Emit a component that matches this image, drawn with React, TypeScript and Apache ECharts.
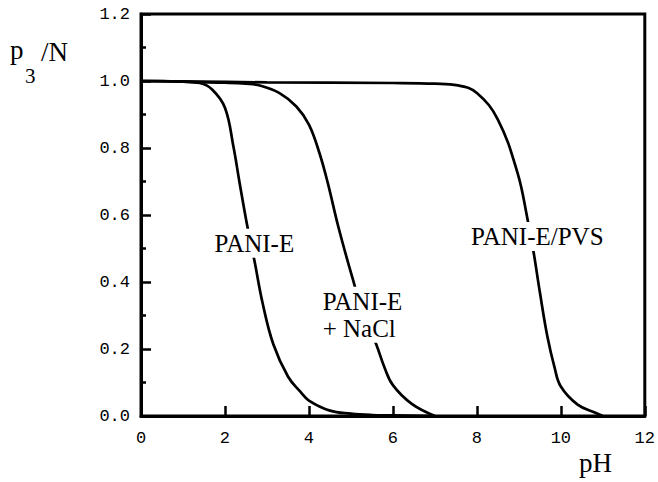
import React, { useEffect, useRef } from "react";
import * as echarts from "echarts";

const xTicks = { min: 0, max: 12, interval: 2 };
const yTicks = { min: 0, max: 1.2, interval: 0.2 };

const paniX = [0, 0.5, 1.0, 1.4, 1.7, 2.0, 2.2, 2.35, 2.55, 2.7, 2.9, 3.15, 3.5, 3.8, 4.0, 4.5, 5.0, 5.5, 6.0, 7.0];
const paniY = [1.0, 1.0, 0.998, 0.994, 0.974, 0.92, 0.805, 0.695, 0.555, 0.465, 0.335, 0.215, 0.118, 0.072, 0.046, 0.016, 0.007, 0.003, 0.002, 0.0];

const naclX = [0, 1, 2, 2.5, 2.85, 3.3, 3.7, 4.0, 4.25, 4.45, 4.7, 5.03, 5.3, 5.6, 5.8, 6.0, 6.45, 7.0];
const naclY = [1.0, 0.998, 0.995, 0.992, 0.986, 0.964, 0.924, 0.87, 0.785, 0.695, 0.565, 0.415, 0.305, 0.215, 0.145, 0.092, 0.036, 0.0];

const pvsX = [0, 3, 6, 7, 7.55, 8.0, 8.5, 8.97, 9.2, 9.35, 9.5, 9.68, 9.85, 10.0, 10.4, 10.85, 11.0];
const pvsY = [1.0, 0.996, 0.994, 0.992, 0.987, 0.964, 0.885, 0.725, 0.592, 0.49, 0.37, 0.237, 0.145, 0.088, 0.034, 0.008, 0.0];

const labelNames = ["PANI-E", "PANI-E\n+ NaCl", "PANI-E/PVS"];
const labelX = [2.7, 4.28, 9.44];
const labelY = [0.516, 0.302, 0.536];
const labelAlign = ["center", "left", "center"];

const zip = (xs: number[], ys: number[]) => xs.map((x, i) => [x, ys[i]]);

export default function App() {
  const ref = useRef<HTMLDivElement>(null);
  useEffect(() => {
    if (!ref.current) return;
    const chart = echarts.init(ref.current, null, { renderer: "svg" });
    const lineSeries = (name: string, xs: number[], ys: number[]) => ({
      name,
      type: "line",
      data: zip(xs, ys),
      showSymbol: false,
      smooth: 0.4,
      lineStyle: { color: "#000", width: 2.7 },
      silent: true,
      z: 2,
    });
    chart.setOption({
      animation: false,
      backgroundColor: "#fff",
      grid: {
        left: 141,
        right: 10,
        top: 14,
        bottom: 66,
        show: true,
        borderColor: "#000",
        borderWidth: 3,
      },
      xAxis: {
        type: "value",
        min: xTicks.min,
        max: xTicks.max,
        interval: xTicks.interval,
        axisLine: { lineStyle: { color: "#000", width: 3 } },
        axisTick: { inside: true, length: 10, lineStyle: { color: "#000", width: 2.5 } },
        splitLine: { show: false },
        axisLabel: {
          color: "#000",
          fontFamily: "Liberation Mono",
          fontSize: 17,
          margin: 14,
        },
      },
      yAxis: {
        type: "value",
        min: yTicks.min,
        max: yTicks.max,
        interval: yTicks.interval,
        axisLine: { show: true, lineStyle: { color: "#000", width: 3 } },
        axisTick: { show: true, inside: true, length: 10, lineStyle: { color: "#000", width: 2.5 } },
        minorTick: { show: true, splitNumber: 2, length: 5, lineStyle: { color: "#000", width: 2.5 } },
        splitLine: { show: false },
        axisLabel: {
          color: "#000",
          fontFamily: "Liberation Mono",
          fontSize: 17,
          margin: 11,
          formatter: (v: number) => v.toFixed(1),
        },
      },
      series: [
        lineSeries("PANI-E", paniX, paniY),
        lineSeries("PANI-E + NaCl", naclX, naclY),
        lineSeries("PANI-E/PVS", pvsX, pvsY),
      ],
    });

    const curveLabels = labelNames.map((n, i) => {
      const [px, py] = chart.convertToPixel({ gridIndex: 0 }, [labelX[i], labelY[i]]);
      return {
        type: "text",
        x: px,
        y: py,
        z: 100,
        silent: true,
        style: {
          text: n,
          font: "25px 'Liberation Serif'",
          lineHeight: 27,
          fill: "#000",
          align: labelAlign[i],
          verticalAlign: "middle",
          backgroundColor: "#fff",
          padding: [1, 2],
        },
      };
    });

    chart.setOption({
      graphic: [
        ...curveLabels,
        {
          type: "text",
          left: 10,
          top: 36,
          style: { text: "p", font: "27px 'Liberation Serif'", fill: "#000" },
        },
        {
          type: "text",
          left: 25,
          top: 65,
          style: { text: "3", font: "21px 'Liberation Serif'", fill: "#000" },
        },
        {
          type: "text",
          left: 41,
          top: 38,
          style: { text: "/N", font: "27px 'Liberation Serif'", fill: "#000" },
        },
        {
          type: "text",
          left: 579,
          top: 449,
          style: { text: "pH", font: "27px 'Liberation Serif'", fill: "#000" },
        },
      ],
    });
    return () => chart.dispose();
  }, []);
  return (
    <div
      ref={ref}
      style={{ position: "fixed", left: 0, top: 0, width: 658, height: 482 }}
    />
  );
}
